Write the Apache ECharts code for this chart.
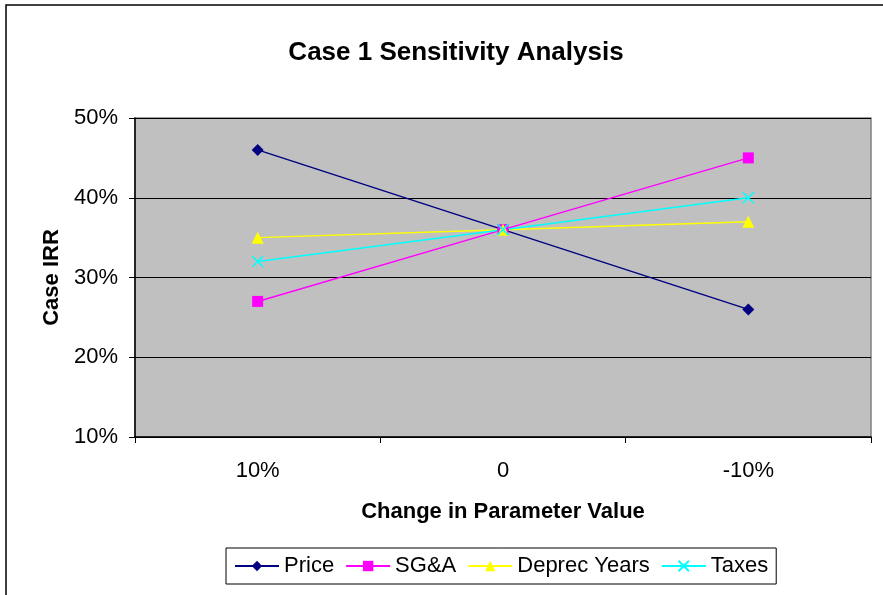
<!DOCTYPE html>
<html><head><meta charset="utf-8">
<script src="https://cdn.jsdelivr.net/npm/echarts@6/dist/echarts.min.js"></script>
<style>html,body{margin:0;padding:0;background:#fff}#c{width:883px;height:595px}</style>
</head><body><div id="c"></div>
<script>
const categories = ['10%', '0', '-10%'];
const priceValues = [46, 36, 26];
const sgaValues = [27, 36, 45];
const deprecValues = [35, 36, 37];
const taxesValues = [32, 36, 40];
const yTicks = [10, 20, 30, 40, 50];

const FONT = 'Liberation Sans, Arial, sans-serif';
const crossPath = 'path://M0,0L10,10M10,0L0,10';
const chart = echarts.init(document.getElementById('c'), null, {renderer: 'canvas'});
function mk(name, data, color, symbol, size, extra) {
  return Object.assign({
    name, type: 'line', data, symbol, symbolSize: size,
    lineStyle: {color, width: 1.5},
    itemStyle: {color, borderColor: color, borderWidth: 0},
    emphasis: {disabled: true}, animation: false
  }, extra || {});
}
chart.setOption({
  animation: false,
  backgroundColor: '#fff',
  title: {
    text: 'Case 1 Sensitivity Analysis', left: 451, top: 35, textAlign: 'center',
    textStyle: {fontFamily: FONT, fontSize: 26, fontWeight: 'bold', color: '#000'}
  },
  graphic: [
    {type: 'polyline', shape: {points: [[6, 595], [6, 5], [883, 5]]}, style: {stroke: '#000', lineWidth: 1.5, fill: null}, z: 10}
  ],
  grid: {left: 135, right: 12, top: 118, bottom: 158, show: true, backgroundColor: '#C0C0C0', borderColor: '#808080', borderWidth: 1.5},
  legend: {
    left: 226, top: 548, orient: 'horizontal',
    padding: [7, 8, 7, 8], borderColor: '#000', borderWidth: 1,
    itemWidth: 44, itemHeight: 13, itemGap: 11,
    textStyle: {fontFamily: FONT, fontSize: 22, color: '#000'},
    data: ['Price', 'SG&A', 'Deprec Years', 'Taxes']
  },
  xAxis: {
    type: 'category', data: categories, boundaryGap: true,
    name: 'Change in Parameter Value', nameLocation: 'middle', nameGap: 64,
    nameTextStyle: {fontFamily: FONT, fontSize: 22, fontWeight: 'bold', color: '#000'},
    axisLine: {lineStyle: {color: '#000', width: 1.5}},
    axisTick: {show: true, length: 6, alignWithLabel: false, lineStyle: {color: '#000'}},
    axisLabel: {fontFamily: FONT, fontSize: 22, color: '#000', margin: 23}
  },
  yAxis: {
    type: 'value', min: 10, max: 50, interval: 10,
    name: 'Case IRR', nameLocation: 'middle', nameGap: 68, nameRotate: 90,
    nameTextStyle: {fontFamily: FONT, fontSize: 22, fontWeight: 'bold', color: '#000'},
    axisLine: {show: true, lineStyle: {color: '#000', width: 1.5}},
    axisTick: {show: true, length: 6, lineStyle: {color: '#000'}},
    axisLabel: {fontFamily: FONT, fontSize: 22, color: '#000', margin: 17,
      formatter: v => yTicks.includes(v) ? v + '%' : ''},
    splitLine: {show: true, lineStyle: {color: '#000', width: 1}}
  },
  series: [
    mk('Price', priceValues, '#000080', 'diamond', 12),
    mk('SG&A', sgaValues, '#FF00FF', 'rect', 11),
    mk('Deprec Years', deprecValues, '#FFFF00', 'triangle', 12),
    mk('Taxes', taxesValues, '#00FFFF', crossPath, 11, {itemStyle: {color: 'rgba(0,0,0,0)', borderColor: '#00FFFF', borderWidth: 1.5}})
  ]
});
</script></body></html>
